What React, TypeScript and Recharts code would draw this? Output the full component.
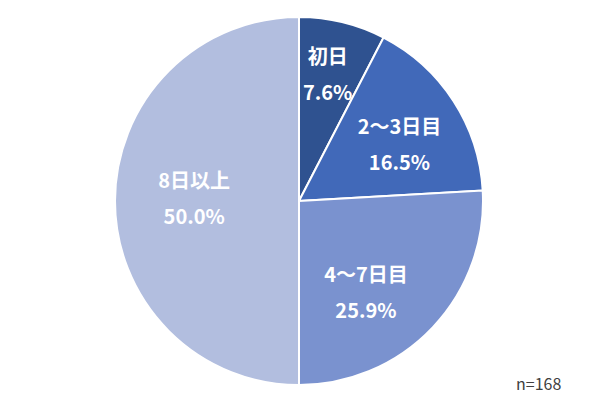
import { PieChart, Pie, Cell } from "recharts";

const categories = ["初日", "2～3日目", "4～7日目", "8日以上"];
const shares = [7.6, 16.5, 25.9, 50.0];
const sampleNote = "n=168";

const sliceColors = ["#2F5290", "#4169B9", "#7A92CF", "#B2BEDF"];
// label placement tweaks: share of radius and extra turn (degrees, clockwise)
const labelReach = [0.71, 0.63, 0.61, 0.57];
const labelTurn = [-1, 3, 10, 2];

const data = categories.map((name, i) => ({ name, value: shares[i] }));

const RAD = Math.PI / 180;
const FONT = "'Noto Sans CJK JP', 'Noto Sans', sans-serif";

function renderLabel(props: any) {
  const { cx, cy, midAngle, outerRadius, index } = props;
  const r = outerRadius * labelReach[index];
  const a = midAngle - labelTurn[index];
  const x = cx + r * Math.cos(-a * RAD);
  const y = cy + r * Math.sin(-a * RAD);
  return (
    <g>
      <text
        x={x}
        y={y - 18}
        fill="#fff"
        textAnchor="middle"
        dominantBaseline="central"
        fontSize={20}
        fontWeight="bold"
        fontFamily={FONT}
      >
        {categories[index]}
      </text>
      <text
        x={x}
        y={y + 18}
        fill="#fff"
        textAnchor="middle"
        dominantBaseline="central"
        fontSize={20}
        fontWeight="bold"
        fontFamily={FONT}
      >
        {shares[index].toFixed(1)}%
      </text>
    </g>
  );
}

export default function App() {
  return (
    <div style={{ position: "absolute", left: 0, top: 0, width: 604, height: 401, background: "#fff" }}>
      <PieChart width={604} height={401} margin={{ top: 0, right: 0, bottom: 0, left: 0 }}>
        <Pie
          data={data}
          dataKey="value"
          cx={299}
          cy={201}
          outerRadius={184}
          startAngle={90}
          endAngle={-270}
          stroke="#fff"
          strokeWidth={2}
          label={renderLabel}
          labelLine={false}
          isAnimationActive={false}
        >
          {data.map((d, i) => (
            <Cell key={d.name} fill={sliceColors[i]} />
          ))}
        </Pie>
        <text
          x={516}
          y={383}
          dominantBaseline="central"
          fontSize={16}
          fill="#404040"
          fontFamily={FONT}
        >
          {sampleNote}
        </text>
      </PieChart>
    </div>
  );
}
